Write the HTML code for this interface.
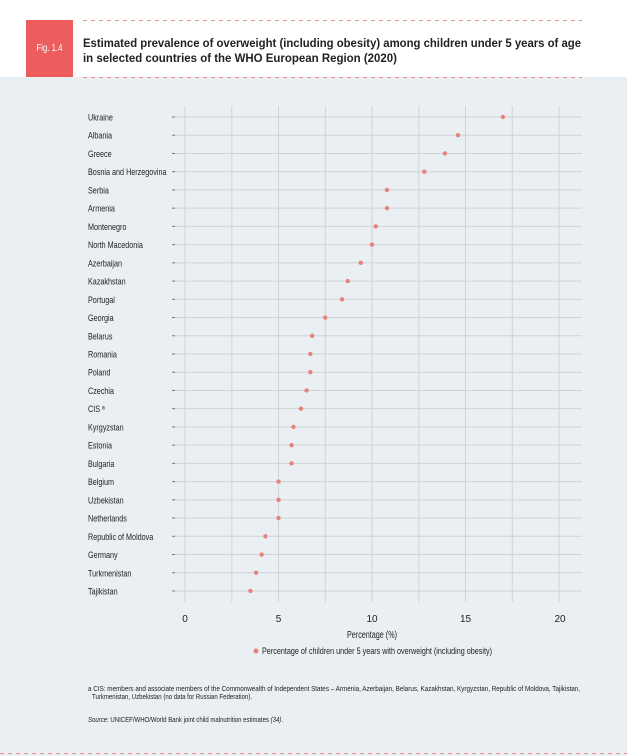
<!DOCTYPE html>
<html><head><meta charset="utf-8"><style>
html,body{margin:0;padding:0;background:#fff;}
body{width:627px;height:756px;overflow:hidden;position:relative;font-family:"Liberation Sans",sans-serif;}
</style></head><body>
<svg width="627" height="756" xmlns="http://www.w3.org/2000/svg" style="position:absolute;left:0;top:0" font-family="Liberation Sans, sans-serif">
<rect x="0" y="0" width="627" height="77" fill="#fff"/>
<rect x="0" y="77" width="627" height="679" fill="#e9eff2"/>
<rect x="26" y="20" width="47" height="57" fill="#ee5d5d"/>
<text x="49.5" y="51" font-size="10" fill="#fff" text-anchor="middle" textLength="26" lengthAdjust="spacingAndGlyphs">Fig. 1.4</text>
<g stroke="#ef8a8a" stroke-width="1" stroke-dasharray="4,4">
<line x1="83" y1="20.5" x2="582" y2="20.5"/>
<line x1="83" y1="77.5" x2="582" y2="77.5"/>
<line x1="0" y1="753.5" x2="627" y2="753.5"/>
</g>
<text font-size="11.5" font-weight="bold" fill="#222">
<tspan x="83" y="47" textLength="498" lengthAdjust="spacingAndGlyphs">Estimated prevalence of overweight (including obesity) among children under 5 years of age</tspan></text>
<text font-size="11.5" font-weight="bold" fill="#222"><tspan x="83" y="62" textLength="314" lengthAdjust="spacingAndGlyphs">in selected countries of the WHO European Region (2020)</tspan></text>
<g stroke="#cfd4d7" stroke-width="1">
<line x1="185" y1="106" x2="185" y2="602"/><line x1="231.8" y1="106" x2="231.8" y2="602"/>
<line x1="278.5" y1="106" x2="278.5" y2="602"/><line x1="325.3" y1="106" x2="325.3" y2="602"/>
<line x1="372" y1="106" x2="372" y2="602"/><line x1="418.8" y1="106" x2="418.8" y2="602"/>
<line x1="465.5" y1="106" x2="465.5" y2="602"/><line x1="512.3" y1="106" x2="512.3" y2="602"/>
<line x1="559" y1="106" x2="559" y2="602"/>
</g>
<g id="rows" font-size="9.5" fill="#222"></g>
<g font-size="10" fill="#222" text-anchor="middle">
<text x="185" y="622">0</text><text x="278.5" y="622">5</text><text x="372" y="622">10</text><text x="465.5" y="622">15</text><text x="560" y="622">20</text>
<text x="372" y="638" textLength="50" lengthAdjust="spacingAndGlyphs">Percentage (%)</text></g>
<circle cx="256" cy="651" r="2.5" fill="#e8837a"/>
<text x="262" y="654" font-size="9.5" fill="#222" textLength="230" lengthAdjust="spacingAndGlyphs">Percentage of children under 5 years with overweight (including obesity)</text>
<text font-size="7" fill="#222" x="88" y="691" textLength="492" lengthAdjust="spacingAndGlyphs">a CIS: members and associate members of the Commonwealth of Independent States – Armenia, Azerbaijan, Belarus, Kazakhstan, Kyrgyzstan, Republic of Moldova, Tajikistan,</text>
<text font-size="7" fill="#222" x="92" y="699" textLength="160" lengthAdjust="spacingAndGlyphs">Turkmenistan, Uzbekistan (no data for Russian Federation).</text>
<text font-size="7" fill="#222" x="88" y="722" textLength="195" lengthAdjust="spacingAndGlyphs"><tspan font-style="italic">Source</tspan>: UNICEF/WHO/World Bank joint child malnutrition estimates <tspan font-style="italic">(34)</tspan>.</text>
</svg>
<script>
var d=[["Ukraine",17.0],["Albania",14.6],["Greece",13.9],["Bosnia and Herzegovina",12.8],["Serbia",10.8],["Armenia",10.8],["Montenegro",10.2],["North Macedonia",10.0],["Azerbaijan",9.4],["Kazakhstan",8.7],["Portugal",8.4],["Georgia",7.5],["Belarus",6.8],["Romania",6.7],["Poland",6.7],["Czechia",6.5],["CIS ᵃ",6.2],["Kyrgyzstan",5.8],["Estonia",5.7],["Bulgaria",5.7],["Belgium",5.0],["Uzbekistan",5.0],["Netherlands",5.0],["Republic of Moldova",4.3],["Germany",4.1],["Turkmenistan",3.8],["Tajikistan",3.5]];
var g=document.getElementById("rows"),s="";
for(var i=0;i<d.length;i++){var y=117+i*18.23;
s+='<line x1="174" y1="'+y+'" x2="582" y2="'+y+'" stroke="#cfd4d7"/>';
s+='<line x1="172" y1="'+y+'" x2="175" y2="'+y+'" stroke="#777"/>';
s+='<text transform="translate(88,'+(y+3.5)+') scale(0.76,1)">'+d[i][0]+'</text>';
s+='<circle cx="'+(185+d[i][1]*18.7)+'" cy="'+y+'" r="2.2" fill="#e8837a"/>';}
g.innerHTML=s;
</script>
</body></html>
